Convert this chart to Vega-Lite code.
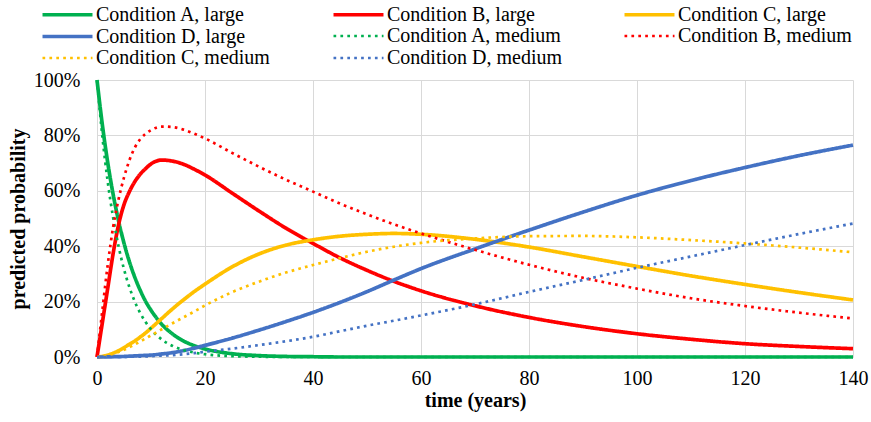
{
"$schema": "https://vega.github.io/schema/vega-lite/v6.json",
"width": 756, "height": 277,
"autosize": {"type": "none"},
"padding": {"left": 97, "top": 80, "right": 18, "bottom": 65},
"background": "white",
"config": {"view": {"stroke": null}},
"data": {"values": [
{"t":0,"s":"Condition A, large","p":1},{"t":1,"s":"Condition A, large","p":0.837},{"t":2,"s":"Condition A, large","p":0.7},{"t":3,"s":"Condition A, large","p":0.586},{"t":4,"s":"Condition A, large","p":0.491},{"t":5,"s":"Condition A, large","p":0.411},{"t":6,"s":"Condition A, large","p":0.344},{"t":7,"s":"Condition A, large","p":0.288},{"t":8,"s":"Condition A, large","p":0.241},{"t":9,"s":"Condition A, large","p":0.201},{"t":10,"s":"Condition A, large","p":0.169},{"t":12,"s":"Condition A, large","p":0.118},{"t":14,"s":"Condition A, large","p":0.083},{"t":16,"s":"Condition A, large","p":0.058},{"t":18,"s":"Condition A, large","p":0.041},{"t":20,"s":"Condition A, large","p":0.029},{"t":25,"s":"Condition A, large","p":0.012},{"t":30,"s":"Condition A, large","p":0.005},{"t":35,"s":"Condition A, large","p":0.002},{"t":40,"s":"Condition A, large","p":0.001},{"t":45,"s":"Condition A, large","p":0},{"t":50,"s":"Condition A, large","p":0},{"t":55,"s":"Condition A, large","p":0},{"t":60,"s":"Condition A, large","p":0},{"t":70,"s":"Condition A, large","p":0},{"t":80,"s":"Condition A, large","p":0},{"t":90,"s":"Condition A, large","p":0},{"t":100,"s":"Condition A, large","p":0},{"t":110,"s":"Condition A, large","p":0},{"t":120,"s":"Condition A, large","p":0},{"t":130,"s":"Condition A, large","p":0},{"t":140,"s":"Condition A, large","p":0},
{"t":0,"s":"Condition B, large","p":0},{"t":1,"s":"Condition B, large","p":0.125},{"t":2,"s":"Condition B, large","p":0.25},{"t":3,"s":"Condition B, large","p":0.375},{"t":4,"s":"Condition B, large","p":0.478},{"t":5,"s":"Condition B, large","p":0.55},{"t":6,"s":"Condition B, large","p":0.597},{"t":7,"s":"Condition B, large","p":0.633},{"t":8,"s":"Condition B, large","p":0.66},{"t":9,"s":"Condition B, large","p":0.68},{"t":10,"s":"Condition B, large","p":0.697},{"t":12,"s":"Condition B, large","p":0.711},{"t":14,"s":"Condition B, large","p":0.707},{"t":16,"s":"Condition B, large","p":0.696},{"t":18,"s":"Condition B, large","p":0.678},{"t":20,"s":"Condition B, large","p":0.657},{"t":25,"s":"Condition B, large","p":0.592},{"t":30,"s":"Condition B, large","p":0.527},{"t":35,"s":"Condition B, large","p":0.465},{"t":40,"s":"Condition B, large","p":0.41},{"t":45,"s":"Condition B, large","p":0.358},{"t":50,"s":"Condition B, large","p":0.313},{"t":55,"s":"Condition B, large","p":0.273},{"t":60,"s":"Condition B, large","p":0.239},{"t":70,"s":"Condition B, large","p":0.185},{"t":80,"s":"Condition B, large","p":0.143},{"t":90,"s":"Condition B, large","p":0.11},{"t":100,"s":"Condition B, large","p":0.084},{"t":110,"s":"Condition B, large","p":0.064},{"t":120,"s":"Condition B, large","p":0.048},{"t":130,"s":"Condition B, large","p":0.038},{"t":140,"s":"Condition B, large","p":0.03},
{"t":0,"s":"Condition C, large","p":0},{"t":1,"s":"Condition C, large","p":0.002},{"t":2,"s":"Condition C, large","p":0.007},{"t":3,"s":"Condition C, large","p":0.014},{"t":4,"s":"Condition C, large","p":0.023},{"t":5,"s":"Condition C, large","p":0.034},{"t":6,"s":"Condition C, large","p":0.046},{"t":7,"s":"Condition C, large","p":0.058},{"t":8,"s":"Condition C, large","p":0.072},{"t":9,"s":"Condition C, large","p":0.087},{"t":10,"s":"Condition C, large","p":0.104},{"t":12,"s":"Condition C, large","p":0.139},{"t":14,"s":"Condition C, large","p":0.174},{"t":16,"s":"Condition C, large","p":0.206},{"t":18,"s":"Condition C, large","p":0.236},{"t":20,"s":"Condition C, large","p":0.263},{"t":25,"s":"Condition C, large","p":0.325},{"t":30,"s":"Condition C, large","p":0.372},{"t":35,"s":"Condition C, large","p":0.404},{"t":40,"s":"Condition C, large","p":0.423},{"t":45,"s":"Condition C, large","p":0.436},{"t":50,"s":"Condition C, large","p":0.443},{"t":55,"s":"Condition C, large","p":0.446},{"t":60,"s":"Condition C, large","p":0.443},{"t":70,"s":"Condition C, large","p":0.425},{"t":80,"s":"Condition C, large","p":0.397},{"t":90,"s":"Condition C, large","p":0.362},{"t":100,"s":"Condition C, large","p":0.327},{"t":110,"s":"Condition C, large","p":0.293},{"t":120,"s":"Condition C, large","p":0.262},{"t":130,"s":"Condition C, large","p":0.233},{"t":140,"s":"Condition C, large","p":0.206},
{"t":0,"s":"Condition D, large","p":0},{"t":1,"s":"Condition D, large","p":0},{"t":2,"s":"Condition D, large","p":0.0005},{"t":3,"s":"Condition D, large","p":0.001},{"t":4,"s":"Condition D, large","p":0.0015},{"t":5,"s":"Condition D, large","p":0.002},{"t":6,"s":"Condition D, large","p":0.003},{"t":7,"s":"Condition D, large","p":0.004},{"t":8,"s":"Condition D, large","p":0.005},{"t":9,"s":"Condition D, large","p":0.006},{"t":10,"s":"Condition D, large","p":0.007},{"t":12,"s":"Condition D, large","p":0.011},{"t":14,"s":"Condition D, large","p":0.016},{"t":16,"s":"Condition D, large","p":0.023},{"t":18,"s":"Condition D, large","p":0.032},{"t":20,"s":"Condition D, large","p":0.042},{"t":25,"s":"Condition D, large","p":0.068},{"t":30,"s":"Condition D, large","p":0.097},{"t":35,"s":"Condition D, large","p":0.128},{"t":40,"s":"Condition D, large","p":0.161},{"t":45,"s":"Condition D, large","p":0.197},{"t":50,"s":"Condition D, large","p":0.236},{"t":55,"s":"Condition D, large","p":0.278},{"t":60,"s":"Condition D, large","p":0.319},{"t":70,"s":"Condition D, large","p":0.39},{"t":80,"s":"Condition D, large","p":0.458},{"t":90,"s":"Condition D, large","p":0.523},{"t":100,"s":"Condition D, large","p":0.584},{"t":110,"s":"Condition D, large","p":0.637},{"t":120,"s":"Condition D, large","p":0.684},{"t":130,"s":"Condition D, large","p":0.727},{"t":140,"s":"Condition D, large","p":0.765},
{"t":0,"s":"Condition A, medium","p":1},{"t":1,"s":"Condition A, medium","p":0.795},{"t":2,"s":"Condition A, medium","p":0.631},{"t":3,"s":"Condition A, medium","p":0.502},{"t":4,"s":"Condition A, medium","p":0.399},{"t":5,"s":"Condition A, medium","p":0.317},{"t":6,"s":"Condition A, medium","p":0.252},{"t":7,"s":"Condition A, medium","p":0.2},{"t":8,"s":"Condition A, medium","p":0.159},{"t":9,"s":"Condition A, medium","p":0.126},{"t":10,"s":"Condition A, medium","p":0.1},{"t":12,"s":"Condition A, medium","p":0.063},{"t":14,"s":"Condition A, medium","p":0.04},{"t":16,"s":"Condition A, medium","p":0.025},{"t":18,"s":"Condition A, medium","p":0.016},{"t":20,"s":"Condition A, medium","p":0.01},{"t":25,"s":"Condition A, medium","p":0.003},{"t":30,"s":"Condition A, medium","p":0.001},{"t":35,"s":"Condition A, medium","p":0},{"t":40,"s":"Condition A, medium","p":0},{"t":45,"s":"Condition A, medium","p":0},{"t":50,"s":"Condition A, medium","p":0},{"t":55,"s":"Condition A, medium","p":0},{"t":60,"s":"Condition A, medium","p":0},{"t":70,"s":"Condition A, medium","p":0},{"t":80,"s":"Condition A, medium","p":0},{"t":90,"s":"Condition A, medium","p":0},{"t":100,"s":"Condition A, medium","p":0},{"t":110,"s":"Condition A, medium","p":0},{"t":120,"s":"Condition A, medium","p":0},{"t":130,"s":"Condition A, medium","p":0},{"t":140,"s":"Condition A, medium","p":0},
{"t":0,"s":"Condition B, medium","p":0},{"t":1,"s":"Condition B, medium","p":0.17},{"t":2,"s":"Condition B, medium","p":0.335},{"t":3,"s":"Condition B, medium","p":0.47},{"t":4,"s":"Condition B, medium","p":0.57},{"t":5,"s":"Condition B, medium","p":0.648},{"t":6,"s":"Condition B, medium","p":0.71},{"t":7,"s":"Condition B, medium","p":0.756},{"t":8,"s":"Condition B, medium","p":0.786},{"t":9,"s":"Condition B, medium","p":0.806},{"t":10,"s":"Condition B, medium","p":0.819},{"t":12,"s":"Condition B, medium","p":0.832},{"t":14,"s":"Condition B, medium","p":0.83},{"t":16,"s":"Condition B, medium","p":0.821},{"t":18,"s":"Condition B, medium","p":0.806},{"t":20,"s":"Condition B, medium","p":0.789},{"t":25,"s":"Condition B, medium","p":0.737},{"t":30,"s":"Condition B, medium","p":0.687},{"t":35,"s":"Condition B, medium","p":0.64},{"t":40,"s":"Condition B, medium","p":0.597},{"t":45,"s":"Condition B, medium","p":0.554},{"t":50,"s":"Condition B, medium","p":0.515},{"t":55,"s":"Condition B, medium","p":0.479},{"t":60,"s":"Condition B, medium","p":0.446},{"t":70,"s":"Condition B, medium","p":0.387},{"t":80,"s":"Condition B, medium","p":0.333},{"t":90,"s":"Condition B, medium","p":0.286},{"t":100,"s":"Condition B, medium","p":0.247},{"t":110,"s":"Condition B, medium","p":0.212},{"t":120,"s":"Condition B, medium","p":0.184},{"t":130,"s":"Condition B, medium","p":0.16},{"t":140,"s":"Condition B, medium","p":0.139},
{"t":0,"s":"Condition C, medium","p":0},{"t":1,"s":"Condition C, medium","p":0.002},{"t":2,"s":"Condition C, medium","p":0.006},{"t":3,"s":"Condition C, medium","p":0.011},{"t":4,"s":"Condition C, medium","p":0.018},{"t":5,"s":"Condition C, medium","p":0.026},{"t":6,"s":"Condition C, medium","p":0.035},{"t":7,"s":"Condition C, medium","p":0.045},{"t":8,"s":"Condition C, medium","p":0.056},{"t":9,"s":"Condition C, medium","p":0.067},{"t":10,"s":"Condition C, medium","p":0.078},{"t":12,"s":"Condition C, medium","p":0.1},{"t":14,"s":"Condition C, medium","p":0.122},{"t":16,"s":"Condition C, medium","p":0.143},{"t":18,"s":"Condition C, medium","p":0.164},{"t":20,"s":"Condition C, medium","p":0.186},{"t":25,"s":"Condition C, medium","p":0.234},{"t":30,"s":"Condition C, medium","p":0.272},{"t":35,"s":"Condition C, medium","p":0.305},{"t":40,"s":"Condition C, medium","p":0.332},{"t":45,"s":"Condition C, medium","p":0.357},{"t":50,"s":"Condition C, medium","p":0.38},{"t":55,"s":"Condition C, medium","p":0.398},{"t":60,"s":"Condition C, medium","p":0.412},{"t":70,"s":"Condition C, medium","p":0.428},{"t":80,"s":"Condition C, medium","p":0.436},{"t":90,"s":"Condition C, medium","p":0.437},{"t":100,"s":"Condition C, medium","p":0.432},{"t":110,"s":"Condition C, medium","p":0.422},{"t":120,"s":"Condition C, medium","p":0.41},{"t":130,"s":"Condition C, medium","p":0.395},{"t":140,"s":"Condition C, medium","p":0.378},
{"t":0,"s":"Condition D, medium","p":0},{"t":1,"s":"Condition D, medium","p":0},{"t":2,"s":"Condition D, medium","p":0},{"t":3,"s":"Condition D, medium","p":0},{"t":4,"s":"Condition D, medium","p":0},{"t":5,"s":"Condition D, medium","p":0.0005},{"t":6,"s":"Condition D, medium","p":0.001},{"t":7,"s":"Condition D, medium","p":0.001},{"t":8,"s":"Condition D, medium","p":0.0015},{"t":9,"s":"Condition D, medium","p":0.002},{"t":10,"s":"Condition D, medium","p":0.003},{"t":12,"s":"Condition D, medium","p":0.005},{"t":14,"s":"Condition D, medium","p":0.007},{"t":16,"s":"Condition D, medium","p":0.01},{"t":18,"s":"Condition D, medium","p":0.014},{"t":20,"s":"Condition D, medium","p":0.019},{"t":25,"s":"Condition D, medium","p":0.03},{"t":30,"s":"Condition D, medium","p":0.043},{"t":35,"s":"Condition D, medium","p":0.057},{"t":40,"s":"Condition D, medium","p":0.073},{"t":45,"s":"Condition D, medium","p":0.093},{"t":50,"s":"Condition D, medium","p":0.113},{"t":55,"s":"Condition D, medium","p":0.131},{"t":60,"s":"Condition D, medium","p":0.15},{"t":70,"s":"Condition D, medium","p":0.19},{"t":80,"s":"Condition D, medium","p":0.235},{"t":90,"s":"Condition D, medium","p":0.278},{"t":100,"s":"Condition D, medium","p":0.322},{"t":110,"s":"Condition D, medium","p":0.363},{"t":120,"s":"Condition D, medium","p":0.404},{"t":130,"s":"Condition D, medium","p":0.444},{"t":140,"s":"Condition D, medium","p":0.482}
]},
"mark": {"type": "line", "interpolate": "monotone", "strokeCap": "butt"},
"encoding": {
"x": {"field": "t", "type": "quantitative", "scale": {"domain": [0, 140], "nice": false},
 "axis": {"values": [0,20,40,60,80,100,120,140], "title": "time (years)", "grid": true, "gridColor": "#D9D9D9", "gridWidth": 1, "domain": false, "ticks": false, "labelFlush": false, "labelPadding": 11, "labelFont": "Liberation Serif", "labelFontWeight": 400, "labelFontSize": 20, "labelColor": "#000000", "titleFont": "Liberation Serif", "titleFontSize": 20, "titleFontWeight": "bold", "titleColor": "#000000", "titlePadding": 2}},
"y": {"field": "p", "type": "quantitative", "scale": {"domain": [0, 1], "nice": false},
 "axis": {"values": [0,0.2,0.4,0.6,0.8,1], "format": ".0%", "title": "predicted probability", "grid": true, "gridColor": "#D9D9D9", "gridWidth": 1, "domain": false, "ticks": false, "labelFlush": false, "labelPadding": 17, "labelFont": "Liberation Serif", "labelFontWeight": 400, "labelFontSize": 20, "labelColor": "#000000", "titleFont": "Liberation Serif", "titleFontSize": 20, "titleFontWeight": "bold", "titleColor": "#000000", "titlePadding": 5}},
"color": {"field": "s", "type": "nominal", "title": null,
 "scale": {"domain": ["Condition A, large","Condition B, large","Condition C, large","Condition D, large","Condition A, medium","Condition B, medium","Condition C, medium","Condition D, medium"],
  "range": ["#00B050","#FF0000","#FFC000","#4472C4","#00B050","#FF0000","#FFC000","#4472C4"]},
 "legend": {"orient": "none", "legendX": -40, "legendY": -76, "columns": 3, "direction": "horizontal", "gridAlign": "all", "columnPadding": 55, "rowPadding": 1, "padding": 0,
  "symbolType": "M-2.94,0H2.94", "symbolSize": 289, "labelOffset": 18, "labelFont": "Liberation Serif", "labelFontWeight": 400, "labelFontSize": 20, "labelColor": "#000000", "labelLimit": 400}},
"strokeDash": {"field": "s", "type": "nominal", "title": null,
 "scale": {"domain": ["Condition A, large","Condition B, large","Condition C, large","Condition D, large","Condition A, medium","Condition B, medium","Condition C, medium","Condition D, medium"],
  "range": [[1,0],[1,0],[1,0],[1,0],[2.7,4.2],[2.7,4.2],[2.7,4.2],[2.7,4.2]]}},
"strokeWidth": {"field": "s", "type": "nominal", "title": null,
 "scale": {"type": "ordinal", "domain": ["Condition A, large","Condition B, large","Condition C, large","Condition D, large","Condition A, medium","Condition B, medium","Condition C, medium","Condition D, medium"],
  "range": [3.7,3.7,3.7,3.7,2.7,2.7,2.7,2.7]}}
}
}
